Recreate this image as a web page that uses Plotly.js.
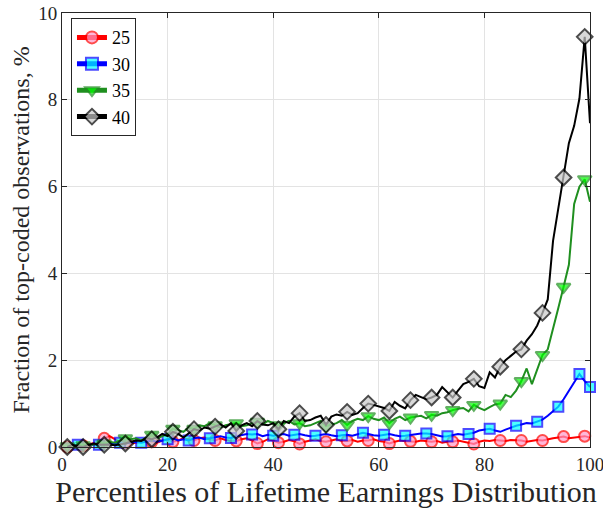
<!DOCTYPE html>
<html>
<head>
<meta charset="utf-8">
<script src="https://cdn.plot.ly/plotly-3.0.1.min.js"></script>
<style>html,body{margin:0;padding:0;background:#fff;}#chart{width:603px;height:508px;}</style>
</head>
<body>
<div id="chart"></div>
<script>
// Percentiles 1..100
const percentiles = Array.from({length: 100}, (_, i) => i + 1);

const seriesNames = ['25', '30', '35', '40'];

const values25 = [
  0.00,0.02,0.05,0.03,0.06,0.08,0.12,0.20,0.25,0.18,
  0.12,0.10,0.08,0.10,0.12,0.15,0.12,0.10,0.15,0.18,
  0.12,0.15,0.20,0.18,0.15,0.20,0.22,0.18,0.15,0.20,
  0.16,0.14,0.14,0.18,0.20,0.15,0.08,0.12,0.18,0.15,
  0.10,0.12,0.16,0.13,0.07,0.12,0.15,0.18,0.14,0.12,
  0.15,0.18,0.14,0.14,0.16,0.12,0.15,0.15,0.18,0.14,
  0.12,0.08,0.12,0.15,0.13,0.13,0.12,0.15,0.14,0.12,
  0.14,0.10,0.12,0.12,0.15,0.12,0.10,0.07,0.12,0.15,
  0.14,0.16,0.15,0.14,0.16,0.15,0.15,0.12,0.14,0.16,
  0.15,0.18,0.20,0.22,0.24,0.20,0.22,0.24,0.25,0.22
];

const values30 = [
  0.00,0.02,0.05,0.04,0.05,0.06,0.05,0.08,0.06,0.08,
  0.10,0.08,0.10,0.12,0.10,0.12,0.15,0.12,0.15,0.18,
  0.20,0.15,0.18,0.15,0.20,0.22,0.18,0.20,0.22,0.25,
  0.22,0.21,0.25,0.28,0.30,0.29,0.30,0.25,0.28,0.26,
  0.28,0.30,0.26,0.28,0.30,0.27,0.25,0.26,0.28,0.30,
  0.27,0.25,0.27,0.28,0.26,0.30,0.33,0.30,0.27,0.26,
  0.28,0.30,0.27,0.25,0.26,0.28,0.30,0.31,0.31,0.30,
  0.27,0.24,0.25,0.28,0.30,0.28,0.30,0.33,0.38,0.40,
  0.42,0.38,0.35,0.40,0.45,0.49,0.52,0.55,0.54,0.58,
  0.63,0.72,0.82,0.93,1.10,1.30,1.50,1.68,1.52,1.38
];

const values35 = [
  0.02,0.00,0.05,0.04,0.06,0.05,0.10,0.08,0.12,0.10,
  0.15,0.20,0.18,0.20,0.15,0.22,0.28,0.20,0.25,0.30,
  0.42,0.38,0.35,0.45,0.42,0.50,0.48,0.55,0.50,0.45,
  0.50,0.52,0.55,0.48,0.50,0.55,0.58,0.52,0.60,0.55,
  0.50,0.55,0.60,0.52,0.55,0.48,0.50,0.55,0.60,0.48,
  0.52,0.55,0.62,0.51,0.60,0.65,0.62,0.71,0.65,0.62,
  0.68,0.55,0.65,0.70,0.62,0.68,0.70,0.72,0.66,0.74,
  0.72,0.78,0.80,0.85,0.88,0.90,0.82,0.97,0.90,0.85,
  0.92,0.98,1.00,1.20,1.15,1.30,1.52,1.81,1.45,1.80,
  2.12,2.25,2.70,3.20,3.69,4.20,5.60,6.00,6.17,5.65
];

const values40 = [
  0.00,0.05,0.02,0.00,0.05,0.08,0.05,0.05,0.06,0.04,
  0.06,0.08,0.12,0.15,0.14,0.20,0.18,0.22,0.30,0.25,
  0.35,0.30,0.22,0.32,0.41,0.38,0.45,0.42,0.47,0.52,
  0.45,0.55,0.37,0.50,0.55,0.48,0.60,0.52,0.50,0.55,
  0.41,0.60,0.55,0.70,0.78,0.60,0.62,0.68,0.72,0.51,
  0.70,0.75,0.72,0.81,0.74,0.78,0.90,1.00,0.97,0.93,
  0.90,0.83,1.04,0.95,0.89,1.08,1.20,1.15,1.10,1.14,
  1.20,1.38,1.25,1.14,1.30,1.45,1.50,1.57,1.40,1.36,
  1.72,1.60,1.85,2.00,2.10,2.20,2.25,2.45,2.60,2.80,
  3.09,3.40,4.75,5.50,6.21,7.00,7.40,8.03,9.45,7.46
];

// Which percentiles carry a marker in each series
const marked25 = [1,4,8,12,17,21,25,29,33,37,41,45,50,54,58,62,66,70,74,78,83,87,91,95,99];
const marked30 = [3,7,11,15,20,24,28,32,36,40,44,48,53,57,61,65,69,73,77,81,86,90,94,98,100];
const marked35 = [1,4,8,12,17,21,25,29,33,37,41,45,50,54,58,62,66,70,74,78,83,87,91,95,99];
const marked40 = [1,4,8,12,17,21,25,29,33,37,41,45,50,54,58,62,66,70,74,78,83,87,91,95,99];

const xTicks = [0, 20, 40, 60, 80, 100];
const yTicks = [0, 2, 4, 6, 8, 10];

const styles = [
  {line: '#ff0000', fill: '#ff9ac8', symbol: 'circle', size: 11},
  {line: '#0000ff', fill: '#00ffff', symbol: 'square', size: 10},
  {line: '#1f8f1f', fill: '#00ff00', symbol: 'triangle-down', size: 12},
  {line: '#000000', fill: '#c8c8c8', symbol: 'diamond', size: 12}
];

const allValues = [values25, values30, values35, values40];
const allMarked = [marked25, marked30, marked35, marked40];

const traces = allValues.map((vals, k) => {
  const st = styles[k];
  const set = new Set(allMarked[k]);
  const sizes = percentiles.map(p => set.has(p) ? st.size : 0);
  const lw = percentiles.map(p => set.has(p) ? 2 : 0);
  return {
    type: 'scatter',
    mode: 'lines+markers',
    name: seriesNames[k],
    x: percentiles,
    y: vals,
    cliponaxis: false,
    line: {color: st.line, width: 2},
    marker: {
      symbol: st.symbol,
      size: sizes,
      color: st.fill,
      line: {color: st.line, width: lw}
    }
  };
});

const serif = 'Liberation Serif, Times New Roman, serif';
const axisCommon = {
  showline: true,
  linecolor: '#262626',
  linewidth: 1,
  mirror: 'ticks',
  ticks: 'inside',
  ticklen: 5,
  tickwidth: 1,
  tickcolor: '#262626',
  showgrid: true,
  gridcolor: '#e3e3e3',
  gridwidth: 1,
  zeroline: false,
  ticklabeloverflow: 'allow',
  tickfont: {family: serif, size: 19, color: '#262626'}
};

const layout = {
  width: 603,
  height: 508,
  margin: {l: 62, r: 13, t: 13, b: 61},
  paper_bgcolor: '#ffffff',
  plot_bgcolor: '#ffffff',
  showlegend: true,
  xaxis: Object.assign({}, axisCommon, {
    range: [0, 100],
    tickvals: xTicks,
    ticktext: xTicks.map(String),
    title: {text: 'Percentiles of Lifetime Earnings Distribution', font: {family: serif, size: 30, color: '#262626'}, standoff: 2}
  }),
  yaxis: Object.assign({}, axisCommon, {
    range: [0, 10],
    tickvals: yTicks,
    ticktext: yTicks.map(String),
    title: {text: 'Fraction of top-coded observations, %', font: {family: serif, size: 24, color: '#262626'}, standoff: 1}
  }),
  legend: {
    x: 0.017, y: 0.988, xanchor: 'left', yanchor: 'top',
    bgcolor: '#ffffff',
    bordercolor: '#262626',
    borderwidth: 1,
    itemsizing: 'constant',
    itemwidth: 30,
    tracegroupgap: 0,
    font: {family: serif, size: 18, color: '#000000'}
  }
};

Plotly.newPlot('chart', traces, layout, {staticPlot: true, displayModeBar: false});
</script>
</body>
</html>
